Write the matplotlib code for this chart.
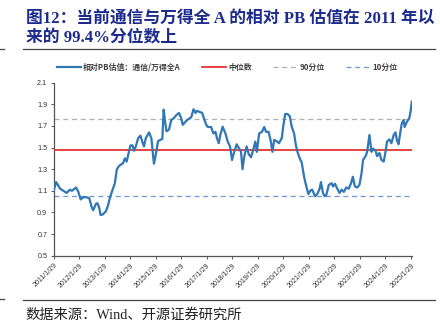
import numpy as np
import matplotlib

matplotlib.use("Agg")
import matplotlib.pyplot as plt
from matplotlib.lines import Line2D

plt.rcParams["font.family"] = ["Noto Sans CJK SC", "DejaVu Sans"]

# relative PB (telecom / Wind All A), time as decimal year
t = [
    2011.08, 2011.18, 2011.26, 2011.33, 2011.46, 2011.59, 2011.72, 2011.80, 2011.96, 2012.05,
    2012.14, 2012.24, 2012.37, 2012.48, 2012.57, 2012.63, 2012.74, 2012.80, 2012.87, 2012.92,
    2013.00, 2013.13, 2013.22, 2013.28, 2013.39, 2013.48, 2013.55, 2013.61, 2013.70, 2013.80,
    2013.87, 2013.94, 2014.00, 2014.09, 2014.17, 2014.23, 2014.30, 2014.39, 2014.48, 2014.56,
    2014.62, 2014.69, 2014.82, 2014.91, 2014.97, 2015.01, 2015.08, 2015.17, 2015.26, 2015.34,
    2015.39, 2015.44, 2015.50, 2015.60, 2015.69, 2015.78, 2015.89, 2015.99, 2016.08, 2016.14,
    2016.25, 2016.34, 2016.47, 2016.56, 2016.64, 2016.69, 2016.79, 2016.90, 2016.99, 2017.06,
    2017.12, 2017.25, 2017.34, 2017.42, 2017.48, 2017.55, 2017.61, 2017.70, 2017.81, 2017.90,
    2017.99, 2018.07, 2018.13, 2018.25, 2018.35, 2018.42, 2018.48, 2018.55, 2018.64, 2018.72,
    2018.81, 2018.90, 2018.98, 2019.04, 2019.13, 2019.24, 2019.33, 2019.40, 2019.50, 2019.59,
    2019.65, 2019.72, 2019.81, 2019.91, 2020.02, 2020.07, 2020.15, 2020.24, 2020.33, 2020.41,
    2020.50, 2020.57, 2020.63, 2020.72, 2020.80, 2020.89, 2020.98, 2021.06, 2021.15, 2021.21,
    2021.32, 2021.41, 2021.50, 2021.55, 2021.63, 2021.69, 2021.76, 2021.86, 2021.97, 2022.02,
    2022.10, 2022.19, 2022.28, 2022.36, 2022.45, 2022.54, 2022.64, 2022.73, 2022.80, 2022.88,
    2022.97, 2023.06, 2023.14, 2023.20, 2023.30, 2023.36, 2023.45, 2023.53, 2023.59, 2023.69,
    2023.75, 2023.84, 2023.92, 2024.01, 2024.08, 2024.14, 2024.23, 2024.31, 2024.40, 2024.47,
    2024.53, 2024.59, 2024.66, 2024.72, 2024.79, 2024.83, 2024.92, 2025.01, 2025.06, 2025.11,
]
pb_rel = [
    1.10, 1.18, 1.15, 1.12, 1.10, 1.08, 1.11, 1.10, 1.13, 1.09,
    1.02, 1.04, 1.04, 1.03, 0.95, 0.92, 0.98, 0.985, 0.94, 0.876,
    0.88, 0.91, 0.97, 1.03, 1.11, 1.17, 1.29, 1.32, 1.34, 1.355,
    1.40, 1.37, 1.43, 1.52, 1.52, 1.47, 1.51, 1.585, 1.61, 1.55,
    1.51, 1.585, 1.64, 1.585, 1.445, 1.35, 1.43, 1.56, 1.57, 1.58,
    1.85, 1.755, 1.65, 1.665, 1.755, 1.77, 1.80, 1.82, 1.77, 1.71,
    1.74, 1.76, 1.78, 1.854, 1.82, 1.84, 1.83, 1.82, 1.755, 1.71,
    1.69, 1.69, 1.63, 1.645, 1.585, 1.54, 1.616, 1.693, 1.63, 1.555,
    1.51, 1.385, 1.44, 1.53, 1.49, 1.46, 1.30, 1.42, 1.51, 1.44,
    1.41, 1.48, 1.555, 1.46, 1.63, 1.645, 1.69, 1.645, 1.645, 1.555,
    1.46, 1.57, 1.56, 1.54, 1.59, 1.69, 1.81, 1.81, 1.79, 1.69,
    1.63, 1.52, 1.46, 1.40, 1.36, 1.23, 1.138, 1.07, 1.105, 1.11,
    1.05, 1.07, 1.12, 1.18, 1.08, 1.05, 1.06, 1.155, 1.17, 1.14,
    1.165, 1.12, 1.08, 1.11, 1.09, 1.13, 1.12, 1.17, 1.23, 1.14,
    1.13, 1.155, 1.26, 1.385, 1.42, 1.46, 1.616, 1.46, 1.49, 1.47,
    1.42, 1.45, 1.385, 1.37, 1.46, 1.555, 1.575, 1.54, 1.616, 1.64,
    1.565, 1.53, 1.64, 1.725, 1.755, 1.69, 1.74, 1.77, 1.83, 1.925,
]
median_val = 1.475
p90_val = 1.765
p10_val = 1.05

years = list(range(2011, 2026))
year_labels = [f"{y}/1/29" for y in years]
y_ticks = [0.5, 0.7, 0.9, 1.1, 1.3, 1.5, 1.7, 1.9, 2.1]

navy = "#1c2b8c"
line_blue = "#2f77b5"
red = "#e3221c"
grey = "#b0b0b0"
light_blue = "#6a98d4"

fig = plt.figure(figsize=(4.4, 3.32), dpi=100)
ax = fig.add_axes([0.1216, 0.230, 0.8155, 0.521])

ax.plot(t, pb_rel, color=line_blue, lw=1.6, zorder=4)
ax.axhline(median_val, color=red, lw=1.2, zorder=3)
ax.axhline(p90_val, color=grey, lw=0.9, ls=(0, (4, 3)), zorder=2)
ax.axhline(p10_val, color=light_blue, lw=0.9, ls=(0, (4, 3)), zorder=2)

ax.set_xlim(2011.08, 2025.13)
ax.set_ylim(0.5, 2.1)
ax.set_yticks(y_ticks)
ax.set_yticklabels([f"{v:.1f}" for v in y_ticks], fontsize=5.2, color="#333333",
                   family=["Liberation Sans", "DejaVu Sans"])
ax.set_xticks([y + 28 / 365 for y in years])
ax.set_xticklabels(year_labels, rotation=45, ha="right", rotation_mode="anchor",
                   fontsize=5, color="#333333", family=["Liberation Sans", "DejaVu Sans"])
ax.tick_params(axis="both", length=2.5, width=0.7, color="#555555", pad=2)

for side in ("top", "right"):
    ax.spines[side].set_visible(False)
for side in ("left", "bottom"):
    ax.spines[side].set_color("#555555")
    ax.spines[side].set_linewidth(0.9)

handles = [
    Line2D([], [], color=line_blue, lw=1.6),
    Line2D([], [], color=red, lw=1.2),
    Line2D([], [], color=grey, lw=0.9, ls=(0, (4, 3))),
    Line2D([], [], color=light_blue, lw=0.9, ls=(0, (4, 3))),
]
names = ["相对PB估值：通信/万得全A", "中位数", "90分位", "10分位"]
fig.legend(handles, names, loc="center", bbox_to_anchor=(0.516, 0.797), ncol=4,
           frameon=False, handlelength=3.0, handletextpad=0.3,
           columnspacing=2.7, prop={"family": ["Noto Sans CJK SC"], "size": 5.7,
                                    "weight": "bold"},
           labelcolor="#404040")

title_font = ["Liberation Serif", "Noto Sans CJK SC"]
fig.text(0.059, 0.945, "图12：当前通信与万得全 A 的相对 PB 估值在 2011 年以",
         fontsize=12.1, fontweight="bold", color=navy, family=title_font, va="center")
fig.text(0.059, 0.885, "来的 99.4%分位数上",
         fontsize=12.1, fontweight="bold", color=navy, family=title_font, va="center")

# header and footer rules
fig.add_artist(Line2D([0.052, 0.989], [0.852, 0.852], color="#444444", lw=0.9))
fig.add_artist(Line2D([0.0, 0.008], [0.852, 0.852], color="#444444", lw=0.9))
fig.add_artist(Line2D([0.052, 0.989], [0.097, 0.097], color="#444444", lw=0.9))
fig.add_artist(Line2D([0.0, 0.008], [0.100, 0.100], color="#444444", lw=0.9))

fig.text(0.057, 0.050, "数据来源：Wind、开源证券研究所", fontsize=10.3,
         color="#222222", family=title_font, va="center")

fig.savefig("out.png", dpi=100)
